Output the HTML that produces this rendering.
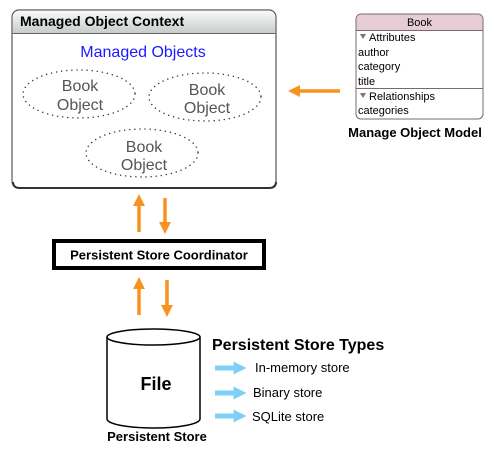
<!DOCTYPE html><html><head><style>body{margin:0;background:#fff}svg{display:block}</style></head><body>
<svg width="497" height="449" xmlns="http://www.w3.org/2000/svg" font-family="Liberation Sans, sans-serif">
<defs><linearGradient id="h" x1="0" y1="0" x2="0" y2="1"><stop offset="0" stop-color="#fafafa"/><stop offset="1" stop-color="#c9cccc"/></linearGradient>
<marker id="o" viewBox="0 0 10 10" refX="5" refY="5" markerWidth="3.6" markerHeight="3.4" orient="auto"><path d="M0,0L10,5L0,10z" fill="#f7931e"/></marker>
<marker id="b" viewBox="0 0 10 10" refX="5" refY="5" markerWidth="2.6" markerHeight="3.4" orient="auto"><path d="M0,0L10,5L0,10z" fill="#7fd0f5"/></marker></defs>
<rect x="12" y="10" width="264" height="178" rx="7" fill="#fff" stroke="#555" stroke-width="1.2"/>
<path d="M12.6,33 V17 a6.4,6.4 0 0 1 6.4,-6.4 H269 a6.4,6.4 0 0 1 6.4,6.4 V33z" fill="url(#h)"/>
<line x1="12" y1="33.5" x2="276" y2="33.5" stroke="#666"/>
<path d="M13,182 q0,6 7,6 H269 q7,0 7,-6" fill="none" stroke="#333" stroke-width="2"/>
<text x="20" y="26" font-size="14" font-weight="bold">Managed Object Context</text>
<text x="143" y="57" font-size="16" fill="#1a1aff" text-anchor="middle">Managed Objects</text>
<g fill="none" stroke="#333" stroke-width="1.4" stroke-dasharray="0.1 5" stroke-linecap="round">
<ellipse cx="79" cy="94" rx="56" ry="24"/><ellipse cx="205" cy="97" rx="56" ry="24"/><ellipse cx="142" cy="153" rx="56" ry="24"/></g>
<g font-size="16" fill="#555" text-anchor="middle">
<text x="80" y="91">Book</text><text x="80" y="110">Object</text>
<text x="207" y="95">Book</text><text x="207" y="113">Object</text>
<text x="144" y="152">Book</text><text x="144" y="170">Object</text></g>
<g stroke="#f7931e" stroke-width="3.5" marker-end="url(#o)">
<line x1="139" y1="232" x2="139" y2="200"/><line x1="165" y1="198" x2="165" y2="228"/>
<line x1="139" y1="315" x2="139" y2="283"/><line x1="167" y1="280" x2="167" y2="311"/>
<line x1="340" y1="91" x2="294" y2="91"/></g>
<rect x="54" y="241" width="210" height="27" fill="#fff" stroke="#000" stroke-width="4"/>
<text x="159" y="259.5" font-size="13" font-weight="bold" text-anchor="middle">Persistent Store Coordinator</text>
<path d="M107,337 V419 A46.5,9 0 0 0 200,419 V337" fill="#fff" stroke="#000" stroke-width="1.5"/>
<ellipse cx="153.5" cy="337" rx="46.5" ry="8" fill="#fff" stroke="#000" stroke-width="1.5"/>
<text x="156" y="390" font-size="18" font-weight="bold" text-anchor="middle">File</text>
<text x="157" y="441" font-size="13" font-weight="bold" text-anchor="middle">Persistent Store</text>
<text x="212" y="350" font-size="16" font-weight="bold">Persistent Store Types</text>
<g stroke="#7fd0f5" stroke-width="5" marker-end="url(#b)">
<line x1="215" y1="368" x2="240" y2="368"/><line x1="215" y1="393" x2="240" y2="393"/><line x1="215" y1="416" x2="240" y2="416"/></g>
<g font-size="13"><text x="255" y="372">In-memory store</text><text x="253" y="397">Binary store</text><text x="252" y="421">SQLite store</text></g>
<rect x="356" y="14" width="127" height="105" rx="5" fill="#fff" stroke="#7a6a70"/>
<path d="M356.5,30 V19 a4.5,4.5 0 0 1 4.5,-4.5 H478 a4.5,4.5 0 0 1 4.5,4.5 V30z" fill="#e6cdd5"/>
<line x1="356" y1="30.5" x2="483" y2="30.5" stroke="#7a6a70"/>
<line x1="356" y1="88.5" x2="483" y2="88.5" stroke="#7a6a70"/>
<g font-size="11"><text x="419.5" y="26" text-anchor="middle">Book</text>
<text x="369" y="41">Attributes</text><text x="358" y="56">author</text><text x="358" y="70">category</text><text x="358" y="85">title</text>
<text x="369" y="100">Relationships</text><text x="358" y="114">categories</text></g>
<path d="M360,34h6l-3,5z M360,93h6l-3,5z" fill="#777"/>
<text x="415" y="137" font-size="13" font-weight="bold" text-anchor="middle">Manage Object Model</text>
</svg></body></html>
